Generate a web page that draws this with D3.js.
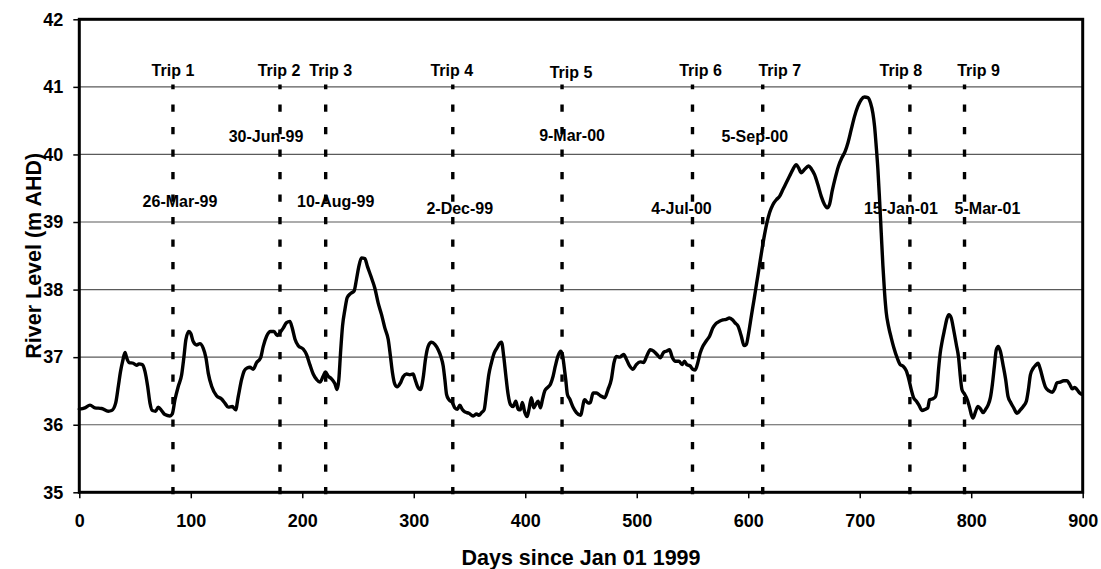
<!DOCTYPE html>
<html>
<head>
<meta charset="utf-8">
<script src="https://cdn.jsdelivr.net/npm/d3@7"></script>
<style>
  html, body { margin: 0; padding: 0; background: #fff; }
  svg { display: block; font-family: "Liberation Sans", Arial, sans-serif; font-weight: bold; }
</style>
</head>
<body>
<svg id="chart" width="1101" height="569"></svg>
<script>
// River level record, days counted from 1 Jan 1999
const days = [
  0, 5, 9.6, 14, 20, 26, 29, 32.6, 35, 37, 38.9, 41, 42.5, 44.8, 48.4, 51.4, 53.5, 56.5, 58.9, 61.3,
  63.4, 65.5, 68.5, 70.8, 73.8, 76.8, 81.3, 83.4, 85.8, 88.8, 91.8, 93.9, 95.6, 98.3, 100, 102.2, 105.2, 108.2, 111.2, 113.6,
  115.7, 118.7, 123.1, 127.6, 130.6, 133.6, 137.2, 140.2, 142.6, 145.6, 148, 150.5, 153, 156, 159, 162.6, 165, 168, 171.5, 174.6,
  177.5, 179.9, 182.9, 185.9, 188.9, 191, 193.4, 196.4, 200.8, 203.8, 206.8, 209.8, 212.8, 215.8, 218.8, 220.8, 223.2, 226.2, 229.2, 231.3,
  232.8, 234.3, 236.1, 238.2, 240.3, 243.2, 246.5, 248.6, 250.7, 253.1, 256.1, 258.5, 261.5, 265.1, 268.1, 271.1, 274.1, 277.1, 279.1, 280.9,
  283, 285.1, 288.1, 290.5, 293.5, 296.5, 299.4, 301, 303.3, 306, 308.4, 310.5, 312.9, 315.9, 318.9, 321.9, 324.3, 326.4, 327.9, 329.4,
  331.5, 334.5, 336.8, 339.2, 341.3, 343.4, 345.8, 349.4, 353.3, 356.3, 358.4, 360.8, 363.1, 365.2, 367.3, 369.7, 372.1, 374.8, 377.2, 378.7,
  380.7, 382.5, 384.6, 386.7, 389.1, 391.5, 393.6, 395.6, 397.4, 399.6, 401.6, 403.4, 405.5, 407.6, 409.4, 411.5, 413.6, 415.4, 417.5, 419.9,
  422.6, 425, 427, 429.4, 431.8, 433.3, 434.8, 436.3, 437.8, 439.9, 442.9, 445.9, 449.5, 453.3, 456.4, 458.4, 460.8, 463.8, 467.4, 471.3,
  474.2, 477.2, 479.6, 481.7, 484.7, 488.3, 490.7, 493.6, 496.6, 499.6, 503.2, 506.1, 509.1, 512.1, 515.1, 518.1, 521.1, 524.1, 527, 529.4,
  531.8, 534.8, 537.8, 540.7, 542.8, 544.9, 547.9, 550.3, 552.4, 554.8, 556.9, 559.3, 562.3, 565.3, 568.2, 571.2, 574.2, 577.2, 580.2, 583.1,
  586.1, 588, 590.8, 593.8, 596.2, 598.3, 600.4, 602.8, 605.2, 607.6, 610, 612.3, 614.7, 616.8, 619.2, 622.2, 625.2, 628.1, 631.1, 634.1,
  637.1, 640.1, 643.1, 645.2, 647.6, 650.6, 654.1, 656.5, 659.5, 662.5, 665.5, 668.4, 670.8, 672.9, 675.3, 678, 681, 684, 687, 689.4,
  692.4, 695.3, 698.3, 701.3, 704.3, 707.3, 709.7, 711.8, 713.3, 714.8, 716.3, 717.8, 719.3, 720.8, 722.3, 723.8, 725.8, 728.2, 730.6, 733.6,
  736.3, 738.7, 741.7, 744.1, 746.2, 748.3, 750.7, 753.1, 755.8, 759, 761.1, 762.6, 765, 767.7, 769.2, 770.7, 772.2, 774, 776.1, 778.2,
  780, 782.1, 784.2, 786.6, 788.7, 790.2, 791.7, 794.1, 796.5, 798.6, 800.1, 801.6, 804, 806.1, 808.5, 810.6, 813, 815.1, 817.2, 819,
  820.8, 822.5, 824.3, 826.1, 828.5, 830.9, 833, 835.4, 838.1, 841.1, 844.1, 847.1, 849.5, 851.3, 853.1, 855.4, 857.8, 859.9, 862, 864.4,
  866.8, 869.8, 872.8, 874.8, 876.9, 879.9, 882.9, 885.9, 888.3, 890.7, 892.8, 894.9, 897.3, 899
];
const riverLevel = [
  36.23, 36.25, 36.29, 36.25, 36.24, 36.20, 36.21, 36.32, 36.57, 36.79, 36.94, 37.07, 36.99, 36.92, 36.91, 36.88, 36.90, 36.89, 36.79, 36.57,
  36.32, 36.21, 36.20, 36.26, 36.21, 36.15, 36.13, 36.16, 36.37, 36.57, 36.74, 37.01, 37.26, 37.38, 37.35, 37.23, 37.18, 37.20, 37.13, 36.99,
  36.76, 36.57, 36.43, 36.38, 36.32, 36.26, 36.27, 36.22, 36.42, 36.67, 36.80, 36.84, 36.85, 36.82, 36.92, 36.99, 37.16, 37.31, 37.38, 37.38,
  37.32, 37.36, 37.43, 37.51, 37.53, 37.43, 37.27, 37.17, 37.12, 37.04, 36.89, 36.75, 36.67, 36.63, 36.72, 36.78, 36.72, 36.68, 36.61, 36.52,
  36.67, 37.06, 37.46, 37.70, 37.88, 37.94, 37.98, 38.15, 38.34, 38.47, 38.46, 38.34, 38.20, 38.02, 37.80, 37.63, 37.43, 37.26, 37.01, 36.77,
  36.60, 36.56, 36.62, 36.71, 36.75, 36.74, 36.75, 36.68, 36.57, 36.52, 36.69, 36.97, 37.16, 37.22, 37.19, 37.11, 37.01, 36.87, 36.67, 36.45,
  36.37, 36.33, 36.25, 36.23, 36.29, 36.23, 36.19, 36.17, 36.13, 36.16, 36.14, 36.18, 36.22, 36.47, 36.74, 36.92, 37.06, 37.14, 37.21, 37.22,
  37.01, 36.74, 36.45, 36.30, 36.27, 36.35, 36.23, 36.22, 36.33, 36.18, 36.12, 36.23, 36.40, 36.25, 36.30, 36.35, 36.25, 36.37, 36.50, 36.55,
  36.60, 36.72, 36.87, 37.02, 37.09, 37.04, 36.87, 36.67, 36.45, 36.38, 36.26, 36.18, 36.14, 36.37, 36.32, 36.33, 36.47, 36.47, 36.43, 36.40,
  36.52, 36.67, 36.92, 37.01, 37.00, 37.04, 36.97, 36.87, 36.82, 36.89, 36.93, 36.92, 37.02, 37.11, 37.09, 37.04, 36.99, 37.07, 37.09, 37.11,
  37.00, 36.94, 36.94, 36.89, 36.94, 36.89, 36.87, 36.82, 36.81, 36.92, 37.06, 37.16, 37.24, 37.31, 37.43, 37.50, 37.53, 37.55, 37.56, 37.58,
  37.55, 37.51, 37.46, 37.31, 37.17, 37.19, 37.36, 37.61, 37.85, 38.10, 38.35, 38.59, 38.82, 38.99, 39.14, 39.26, 39.33, 39.38, 39.48, 39.58,
  39.68, 39.78, 39.85, 39.80, 39.73, 39.78, 39.83, 39.79, 39.70, 39.55, 39.38, 39.26, 39.21, 39.26, 39.46, 39.65, 39.83, 39.95, 40.05, 40.17,
  40.37, 40.56, 40.71, 40.81, 40.85, 40.84, 40.76, 40.61, 40.42, 40.12, 39.78, 39.33, 38.84, 38.35, 37.95, 37.66, 37.46, 37.29, 37.14, 36.99,
  36.89, 36.87, 36.80, 36.67, 36.52, 36.40, 36.35, 36.29, 36.21, 36.23, 36.25, 36.37, 36.38, 36.41, 36.52, 36.82, 37.06, 37.24, 37.41, 37.57,
  37.63, 37.58, 37.41, 37.19, 36.99, 36.72, 36.52, 36.45, 36.37, 36.25, 36.15, 36.10, 36.20, 36.27, 36.23, 36.18, 36.23, 36.29, 36.40, 36.60,
  36.87, 37.11, 37.16, 37.09, 36.89, 36.67, 36.42, 36.33, 36.25, 36.17, 36.22, 36.28, 36.35, 36.52, 36.74, 36.83, 36.88, 36.91, 36.82, 36.67,
  36.55, 36.50, 36.48, 36.53, 36.62, 36.63, 36.65, 36.65, 36.60, 36.53, 36.55, 36.52, 36.47, 36.45
];

// Sampling trips
const tripNames = ["Trip 1", "Trip 2", "Trip 3", "Trip 4", "Trip 5", "Trip 6", "Trip 7", "Trip 8", "Trip 9"];
const tripDates = ["26-Mar-99", "30-Jun-99", "10-Aug-99", "2-Dec-99", "9-Mar-00", "4-Jul-00", "5-Sep-00", "15-Jan-01", "5-Mar-01"];
const tripDays  = [84, 180, 221, 335, 433, 550, 613, 745, 794];

// Axis ticks
const xTicks = [0, 100, 200, 300, 400, 500, 600, 700, 800, 900];
const yTicks = [35, 36, 37, 38, 39, 40, 41, 42];
const gridLevels = [36, 37, 38, 39, 40, 41];

// Label placement (pixel nudges for the trip annotations)
const tripLabelDx   = [0, -1, 5, -1, 9, 8, 17, -9, 14];
const tripLabelDy   = [0, 0, 0, 0, 1.5, 0, 0, 0, 0];
const dateLabelDx   = [7, -14, 10, 7, 10, -11, -8, -9, 23];
const dateLabelBase = [207, 141.5, 207, 214, 141, 214, 142, 214, 214];

const svg = d3.select("#chart");
const plotLeft = 79.3, plotRight = 1082.7, plotTop = 19.3, plotBottom = 492.3;

const x = d3.scaleLinear().domain([0, 900]).range([plotLeft, plotRight]);
const y = d3.scaleLinear().domain([35, 42]).range([plotBottom, plotTop]);

// Horizontal gridlines
svg.append("g")
  .selectAll("line")
  .data(gridLevels)
  .join("line")
  .attr("x1", plotLeft).attr("x2", plotRight)
  .attr("y1", d => y(d)).attr("y2", d => y(d))
  .attr("stroke", "#5a5a5a")
  .attr("stroke-width", 1.2);

// Dashed trip markers
svg.append("g")
  .selectAll("line")
  .data(tripDays)
  .join("line")
  .attr("x1", d => x(d)).attr("x2", d => x(d))
  .attr("y1", y(35) + 2).attr("y2", y(41) - 2.3)
  .attr("stroke", "#000")
  .attr("stroke-width", 3.4)
  .attr("stroke-dasharray", "7.3,15.2");

// River level line
const line = d3.line()
  .x((d, i) => x(days[i]))
  .y(d => y(d))
  .curve(d3.curveMonotoneX);

svg.append("path")
  .datum(riverLevel)
  .attr("d", line)
  .attr("fill", "none")
  .attr("stroke", "#000")
  .attr("stroke-width", 3.4)
  .attr("stroke-linejoin", "round")
  .attr("stroke-linecap", "round");

// Plot frame
svg.append("rect")
  .attr("x", plotLeft).attr("y", plotTop)
  .attr("width", plotRight - plotLeft).attr("height", plotBottom - plotTop)
  .attr("fill", "none")
  .attr("stroke", "#000")
  .attr("stroke-width", 3);

// Axes
const xAxis = svg.append("g")
  .attr("transform", `translate(0,${plotBottom})`)
  .call(d3.axisBottom(x).tickValues(xTicks).tickSize(6).tickPadding(16).tickFormat(d3.format("d")));
xAxis.select(".domain").remove();
xAxis.selectAll(".tick line").attr("stroke", "#000").attr("stroke-width", 1.5);
xAxis.selectAll(".tick text")
  .attr("font-family", "Liberation Sans, Arial, sans-serif")
  .attr("font-weight", "bold")
  .attr("font-size", 18)
  .attr("fill", "#000");

const yAxis = svg.append("g")
  .attr("transform", `translate(${plotLeft},0)`)
  .call(d3.axisLeft(y).tickValues(yTicks).tickSize(6).tickPadding(10).tickFormat(d3.format("d")));
yAxis.select(".domain").remove();
yAxis.selectAll(".tick line").attr("stroke", "#000").attr("stroke-width", 1.5);
yAxis.selectAll(".tick text")
  .attr("font-family", "Liberation Sans, Arial, sans-serif")
  .attr("font-weight", "bold")
  .attr("font-size", 18)
  .attr("fill", "#000");

// Trip labels
svg.append("g")
  .selectAll("text")
  .data(tripNames)
  .join("text")
  .attr("x", (d, i) => x(tripDays[i]) + tripLabelDx[i])
  .attr("y", (d, i) => 76 + tripLabelDy[i])
  .attr("text-anchor", "middle")
  .attr("font-size", 16)
  .text(d => d);

svg.append("g")
  .selectAll("text")
  .data(tripDates)
  .join("text")
  .attr("x", (d, i) => x(tripDays[i]) + dateLabelDx[i])
  .attr("y", (d, i) => dateLabelBase[i])
  .attr("text-anchor", "middle")
  .attr("font-size", 16)
  .text(d => d);

// Axis titles
svg.append("text")
  .attr("x", (plotLeft + plotRight) / 2)
  .attr("y", 565)
  .attr("text-anchor", "middle")
  .attr("font-size", 21.5)
  .text("Days since Jan 01 1999");

svg.append("text")
  .attr("transform", `translate(40.5,${(plotTop + plotBottom) / 2}) rotate(-90)`)
  .attr("text-anchor", "middle")
  .attr("font-size", 21.5)
  .text("River Level (m AHD)");
</script>
</body>
</html>
